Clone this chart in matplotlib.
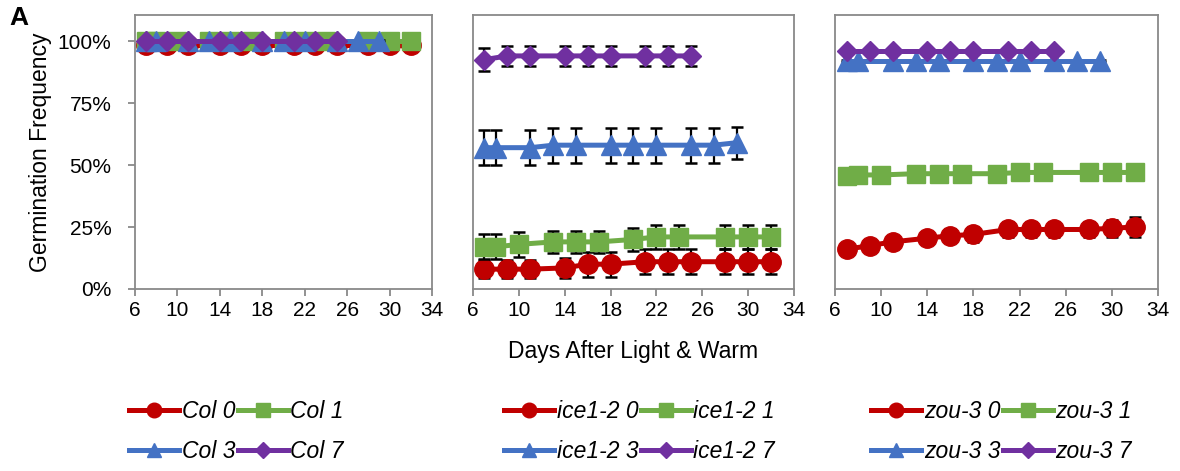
import matplotlib
matplotlib.use('Agg')
import matplotlib.pyplot as plt
from matplotlib.lines import Line2D

plt.rcParams['font.family'] = ['Liberation Sans', 'DejaVu Sans']

# days after light & warm for each treatment (0, 1, 3, 7)
DAYS_0 = [7, 9, 11, 14, 16, 18, 21, 23, 25, 28, 30, 32]
DAYS_1 = [7, 8, 10, 13, 15, 17, 20, 22, 24, 28, 30, 32]
DAYS_3 = [7, 8, 11, 13, 15, 18, 20, 22, 25, 27, 29]
DAYS_7 = [7, 9, 11, 14, 16, 18, 21, 23, 25]

GENOTYPES = ['Col', 'ice1-2', 'zou-3']
TREATMENTS = ['0', '1', '3', '7']

# germination frequency (%)
COL_0 = [98.5] * 12
COL_1 = [100] * 12
COL_3 = [100] * 11
COL_7 = [100] * 9
COL_0_ERR = [1] * 12
COL_1_ERR = [0.5] * 12
COL_3_ERR = [0.5] * 11
COL_7_ERR = [0.5] * 9

ICE_0 = [8, 8, 8, 8.5, 10, 10, 11, 11, 11, 11, 11, 11]
ICE_1 = [17, 17, 18, 19, 19, 19, 20, 21, 21, 21, 21, 21]
ICE_3 = [57, 57, 57, 58, 58, 58, 58, 58, 58, 58, 59]
ICE_7 = [92.5, 94, 94, 94, 94, 94, 94, 94, 94]
ICE_0_ERR = [3.5, 3.5, 3.5, 4, 5, 5, 5, 5, 5, 5, 5, 5]
ICE_1_ERR = [5, 5, 5, 4.5, 4.5, 4.5, 4.5, 5, 5, 5, 5, 5]
ICE_3_ERR = [7, 7, 7, 7, 7, 7, 7, 7, 7, 7, 6.5]
ICE_7_ERR = [4.5, 4, 4, 4, 4, 4, 4, 4, 4]

ZOU_0 = [16, 17.5, 19, 20.5, 21.5, 22, 24, 24, 24, 24, 24.5, 25]
ZOU_1 = [45.5, 46, 46, 46.5, 46.5, 46.5, 46.5, 47, 47, 47, 47, 47]
ZOU_3 = [92, 92, 92, 92, 92, 92, 92, 92, 92, 92, 92]
ZOU_7 = [96, 96, 96, 96, 96, 96, 96, 96, 96]
ZOU_0_ERR = [1.5, 2, 2.5, 2.5, 2.5, 3, 3, 3, 3, 3, 3.5, 4]
ZOU_1_ERR = [1, 1, 1.5, 1, 1, 1, 1, 1, 1, 1, 1, 1]
ZOU_3_ERR = [0.5] * 11
ZOU_7_ERR = [0.5] * 9

DATA = [
    [(DAYS_0, COL_0, COL_0_ERR), (DAYS_1, COL_1, COL_1_ERR),
     (DAYS_3, COL_3, COL_3_ERR), (DAYS_7, COL_7, COL_7_ERR)],
    [(DAYS_0, ICE_0, ICE_0_ERR), (DAYS_1, ICE_1, ICE_1_ERR),
     (DAYS_3, ICE_3, ICE_3_ERR), (DAYS_7, ICE_7, ICE_7_ERR)],
    [(DAYS_0, ZOU_0, ZOU_0_ERR), (DAYS_1, ZOU_1, ZOU_1_ERR),
     (DAYS_3, ZOU_3, ZOU_3_ERR), (DAYS_7, ZOU_7, ZOU_7_ERR)],
]

COLORS = ['#C00000', '#70AD47', '#4472C4', '#7030A0']
MARKERS = ['o', 's', '^', 'D']
MSIZES = [14, 13.5, 14, 10.5]
SPINE = '#898989'


def draw():
    fig = plt.figure(figsize=(11.8, 4.71), dpi=100)
    lefts = [135, 473, 835]
    widths = [297, 321, 323]
    axes = []
    for i in range(3):
        ax = fig.add_axes([lefts[i] / 1180, 1 - 289 / 471, widths[i] / 1180, 274 / 471])
        axes.append(ax)
        for k, (x, y, e) in enumerate(DATA[i]):
            ax.errorbar(x, y, yerr=e, fmt='none', ecolor='black', elinewidth=1.6,
                        capsize=4.5, capthick=1.8, zorder=2 + k * 2)
            ax.plot(x, y, color=COLORS[k], marker=MARKERS[k], markersize=MSIZES[k],
                    linewidth=3.6, zorder=3 + k * 2)
        ax.set_xlim(6, 34)
        ax.set_ylim(0, 110.5)
        ax.set_xticks(range(6, 35, 4))
        ax.set_yticks([0, 25, 50, 75, 100])
        for s in ax.spines.values():
            s.set_color(SPINE)
            s.set_linewidth(1.3)
        ax.tick_params(axis='both', direction='out', color=SPINE, width=1.3, length=5,
                       labelsize=15, pad=4)
        if i == 0:
            ax.set_yticklabels(['0%', '25%', '50%', '75%', '100%'])
            ax.tick_params(axis='y', pad=12)
            ax.set_ylabel('Germination Frequency', fontsize=16.5, labelpad=4)
        else:
            ax.set_yticklabels([])
            ax.tick_params(axis='y', length=0)

    axes[1].set_xlabel('Days After Light & Warm', fontsize=16.5, labelpad=14)
    fig.text(0.008, 0.962, 'A', fontsize=19, fontweight='bold', va='center')

    # legend order so rows read 0, 1 / 3, 7
    order = [0, 2, 1, 3]
    leg_x = [129, 504, 871]
    for i, g in enumerate(GENOTYPES):
        handles = [Line2D([], [], color=COLORS[k], marker=MARKERS[k],
                          markersize=MSIZES[k] * 0.75, linewidth=3.6)
                   for k in order]
        labels = [f'{g} {TREATMENTS[k]}' for k in order]
        fig.legend(handles, labels, loc='upper left', ncol=2, frameon=False,
                   bbox_to_anchor=(leg_x[i] / 1180, 1 - 400 / 471),
                   prop={'size': 16.5, 'style': 'italic'},
                   handlelength=2.2, handletextpad=0.1, columnspacing=0.1,
                   labelspacing=0.75, borderpad=0, borderaxespad=0)

    fig.savefig('out.png', dpi=100)
    plt.close()


if __name__ == '__main__':
    draw()
